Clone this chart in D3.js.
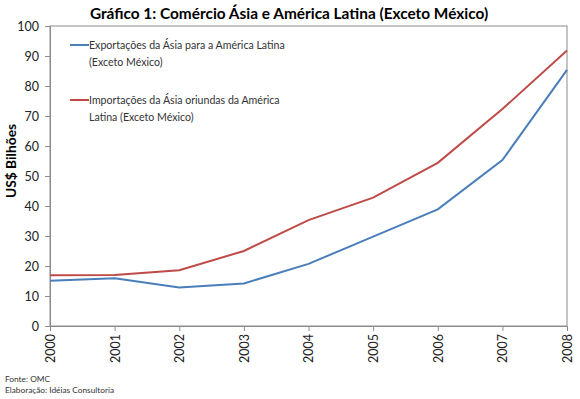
<!DOCTYPE html>
<head>
  <meta charset="utf-8" />
  <script src="https://d3js.org/d3.v7.min.js"></script>
  <style>
    body { margin: 0; background: white; }
    text { font-family: Lato, "Open Sans", sans-serif; }
  </style>
</head>
<body>
  <script>
    var width = 580, height = 399;
    var margin = { top: 26, right: 13, bottom: 73, left: 50 };

    // dados (US$ bilhões)
    var anos = ["2000", "2001", "2002", "2003", "2004", "2005", "2006", "2007", "2008"];
    var exportacoes = [15.1, 15.9, 12.8, 14.2, 20.7, 29.8, 38.9, 55.3, 85.4];
    var importacoes = [16.9, 17.0, 18.6, 25.0, 35.3, 42.8, 54.4, 72.3, 91.8];
    var yTicks = [0, 10, 20, 30, 40, 50, 60, 70, 80, 90, 100];

    var series = [
      { nome: ["Exportações da Ásia para a América Latina", "(Exceto México)"], valores: exportacoes, cor: "#4a7ebb" },
      { nome: ["Importações da Ásia oriundas da América", "Latina (Exceto México)"], valores: importacoes, cor: "#be4b48" }
    ];

    var svg = d3.select("body").append("svg")
      .attr("width", width).attr("height", height);

    var x = d3.scalePoint().domain(anos).range([margin.left, width - margin.right]);
    var y = d3.scaleLinear().domain([0, 100]).range([height - margin.bottom, margin.top]);

    // título
    svg.append("text")
      .attr("x", 289).attr("y", 19)
      .attr("text-anchor", "middle")
      .style("font-weight", "bold").style("font-size", "15.4px")
      .text("Gráfico 1: Comércio Ásia e América Latina (Exceto México)");

    // moldura da área de plotagem
    svg.append("rect")
      .attr("x", margin.left).attr("y", margin.top)
      .attr("width", width - margin.right - margin.left)
      .attr("height", height - margin.bottom - margin.top)
      .attr("fill", "none").attr("stroke", "#8c8c8c");

    var yAxis = svg.append("g")
      .attr("transform", "translate(" + margin.left + ",0)")
      .call(d3.axisLeft(y).tickValues(yTicks).tickSize(5).tickPadding(6));
    yAxis.select(".domain").attr("stroke", "#8c8c8c");
    yAxis.selectAll(".tick line").attr("stroke", "#8c8c8c");
    yAxis.selectAll("text").style("font-size", "12.5px").attr("fill", "#222")
      .style("font-family", "Lato, sans-serif");

    var xAxis = svg.append("g")
      .attr("transform", "translate(0," + (height - margin.bottom) + ")")
      .call(d3.axisBottom(x).tickSize(5).tickSizeOuter(0));
    xAxis.select(".domain").attr("stroke", "#8c8c8c");
    xAxis.selectAll(".tick line").attr("stroke", "#8c8c8c");
    xAxis.selectAll("text")
      .style("font-size", "12.5px").attr("fill", "#222")
      .style("font-family", "Lato, sans-serif")
      .attr("transform", "rotate(-90)")
      .attr("text-anchor", "end")
      .attr("x", -8).attr("y", 0).attr("dy", "0.35em");

    // rótulo do eixo y
    svg.append("text")
      .attr("transform", "translate(16,161) rotate(-90)")
      .attr("text-anchor", "middle")
      .style("font-weight", "bold").style("font-size", "13.8px")
      .text("US$ Bilhões");

    var line = d3.line()
      .x(function (d, i) { return x(anos[i]); })
      .y(function (d) { return y(d); });

    svg.selectAll(".serie").data(series).join("path")
      .attr("class", "serie")
      .attr("d", function (d) { return line(d.valores); })
      .attr("fill", "none")
      .attr("stroke", function (d) { return d.cor; })
      .attr("stroke-width", 2);

    // legenda
    var leg = svg.selectAll(".leg").data(series).join("g")
      .attr("class", "leg")
      .attr("transform", function (d, i) { return "translate(70," + (45 + i * 55) + ")"; });
    leg.append("line")
      .attr("x1", 0).attr("x2", 19).attr("y1", 0).attr("y2", 0)
      .attr("stroke", function (d) { return d.cor; }).attr("stroke-width", 2);
    leg.each(function (d) {
      var t = d3.select(this).append("text")
        .attr("x", 19).attr("y", 4)
        .style("font-size", "10.6px").attr("fill", "#333");
      d.nome.forEach(function (s, k) {
        t.append("tspan").attr("x", 19).attr("dy", k === 0 ? 0 : 17).text(s);
      });
    });

    // fonte
    svg.append("text").attr("x", 5).attr("y", 382)
      .style("font-size", "8.3px").attr("fill", "#333").text("Fonte: OMC");
    svg.append("text").attr("x", 5).attr("y", 393)
      .style("font-size", "8.3px").attr("fill", "#333").text("Elaboração: Idéias Consultoria");
  </script>
</body>
